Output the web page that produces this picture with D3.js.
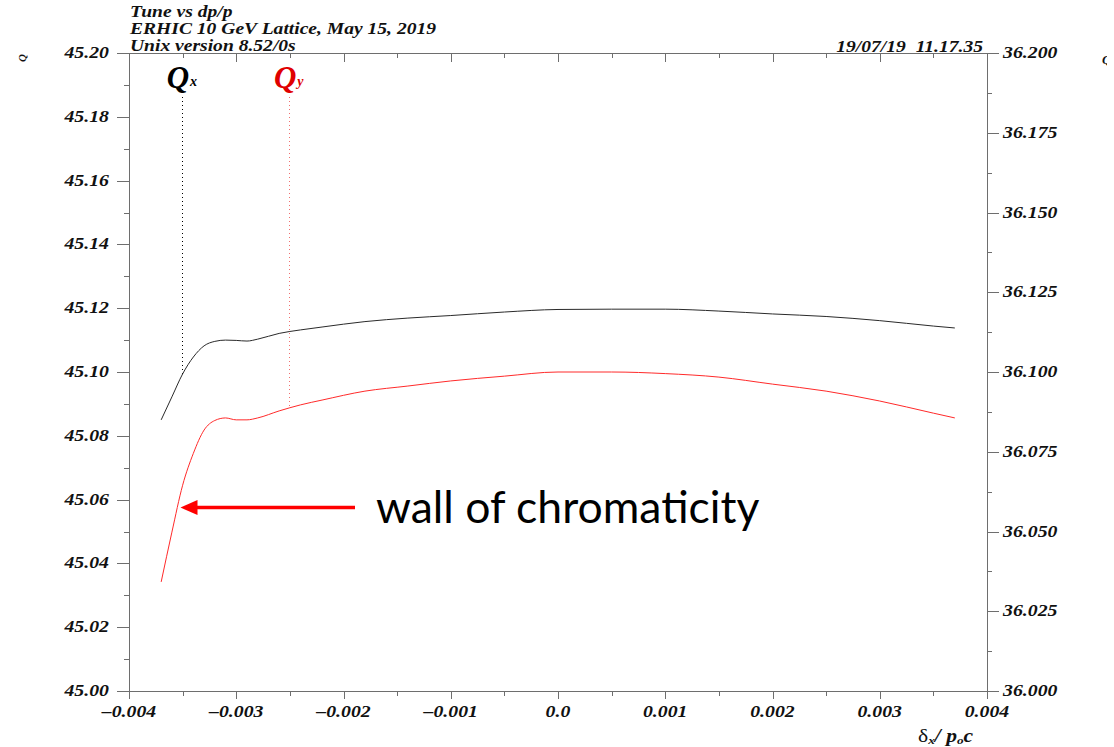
<!DOCTYPE html>
<html>
<head>
<meta charset="utf-8">
<script src="https://cdn.jsdelivr.net/npm/d3@7"></script>
<style>
  html, body { margin: 0; padding: 0; background: #fff; }
  svg { display: block; }
  .plotfont { font-family: "Liberation Serif", "Times New Roman", serif; font-weight: bold; font-style: italic; white-space: pre; }
  .axis path, .axis line { stroke: #6e6e6e; stroke-width: 1; shape-rendering: crispEdges; }
</style>
</head>
<body>
<svg id="chart" width="1114" height="747"></svg>
<script>
// Momentum offsets dp/p at which the tunes were tracked
const dpp = [-0.0037, -0.0036, -0.0035, -0.0034, -0.0033, -0.0032, -0.0031, -0.0030,
             -0.0029, -0.0028, -0.0026, -0.0024, -0.0022, -0.0018, -0.0014, -0.0010,
             -0.0005, 0.0, 0.0005, 0.0010, 0.0015, 0.0020, 0.0025, 0.0030, 0.0035, 0.0037];

// Horizontal tune Qx (left axis)
const qx = [45.0850, 45.0922, 45.0994, 45.1047, 45.1082, 45.1096, 45.1100, 45.1099,
            45.1097, 45.1103, 45.1121, 45.1132, 45.1141, 45.1158, 45.1169, 45.1177,
            45.1188, 45.1196, 45.1197, 45.1197, 45.1191, 45.1182, 45.1174, 45.1161,
            45.1144, 45.1138];

// Vertical tune Qy (right axis)
const qy = [36.0342, 36.0498, 36.0645, 36.0745, 36.0818, 36.0848, 36.0856, 36.0850,
            36.0850, 36.0856, 36.0878, 36.0897, 36.0912, 36.0940, 36.0956, 36.0972,
            36.0987, 36.1000, 36.1000, 36.0995, 36.0984, 36.0962, 36.0940, 36.0909,
            36.0871, 36.0856];

// Axis ticks and labels
const xMajor = [-0.004, -0.003, -0.002, -0.001, 0.0, 0.001, 0.002, 0.003, 0.004];
const xMinor = [-0.0035, -0.0025, -0.0015, -0.0005, 0.0005, 0.0015, 0.0025, 0.0035];
const xTickLabels = ["\u20130.004", "\u20130.003", "\u20130.002", "\u20130.001", "0.0",
                     "0.001", "0.002", "0.003", "0.004"];
const qxMajor = [45.00, 45.02, 45.04, 45.06, 45.08, 45.10, 45.12, 45.14, 45.16, 45.18, 45.20];
const qxMinor = [45.01, 45.03, 45.05, 45.07, 45.09, 45.11, 45.13, 45.15, 45.17, 45.19];
const qyMajor = [36.000, 36.025, 36.050, 36.075, 36.100, 36.125, 36.150, 36.175, 36.200];
const qyMinor = [36.0125, 36.0375, 36.0625, 36.0875, 36.1125, 36.1375, 36.1625, 36.1875];

// Marked working points for the tune labels
const markQx = -0.0035;
const markQy = -0.0025;

const titleLines = ["Tune vs dp/p", "ERHIC 10 GeV Lattice, May 15, 2019", "Unix version 8.52/0s"];
const stamp = "19/07/19  11.17.35";
const note = "wall of chromaticity";
const noteAt = { dp: -0.00352, q: 36.0575 };

const svg = d3.select("#chart");
const pL = 129, pR = 987, pT = 53, pB = 691;

const x = d3.scaleLinear().domain([-0.004, 0.004]).range([pL, pR]);
const yL = d3.scaleLinear().domain([45.0, 45.2]).range([pB, pT]);
const yR = d3.scaleLinear().domain([36.0, 36.2]).range([pB, pT]);

// Frame: bottom + top x axes, left + right tune axes (major and minor ticks)
function drawAxis(axis, tx, ty) {
  const g = svg.append("g").attr("class", "axis").attr("transform", `translate(${tx},${ty})`).call(axis);
  g.selectAll("text").remove();
  return g;
}
drawAxis(d3.axisBottom(x).tickValues(xMajor).tickSize(8).tickSizeOuter(0), 0, pB);
drawAxis(d3.axisBottom(x).tickValues(xMinor).tickSize(5).tickSizeOuter(0), 0, pB).select(".domain").remove();
drawAxis(d3.axisBottom(x).tickValues(xMajor).tickSize(9).tickSizeOuter(0), 0, pT);
drawAxis(d3.axisBottom(x).tickValues(xMinor).tickSize(5).tickSizeOuter(0), 0, pT).select(".domain").remove();
drawAxis(d3.axisLeft(yL).tickValues(qxMajor).tickSize(12).tickSizeOuter(0), pL, 0);
drawAxis(d3.axisLeft(yL).tickValues(qxMinor).tickSize(5).tickSizeOuter(0), pL, 0).select(".domain").remove();
drawAxis(d3.axisRight(yR).tickValues(qyMajor).tickSize(12).tickSizeOuter(0), pR, 0);
drawAxis(d3.axisRight(yR).tickValues(qyMinor).tickSize(5).tickSizeOuter(0), pR, 0).select(".domain").remove();

// Tick labels (stretched horizontally like the plotter font)
const sx = 1.2;
function stretched(text, px, py, anchor, size, color) {
  const g = svg.append("g").attr("transform", `translate(${px},${py}) scale(${sx},1)`);
  const t = g.append("text").attr("class", "plotfont").attr("text-anchor", anchor || "start")
    .attr("font-size", size || 16).attr("fill", color || "#111").text(text);
  return t;
}
qxMajor.forEach(v => stretched(d3.format(".2f")(v), pL - 20, yL(v) + 5, "end", 16.5));
qyMajor.forEach(v => stretched(d3.format(".3f")(v), pR + 16, yR(v) + 5, "start", 16.5));
xMajor.forEach((v, i) => stretched(xTickLabels[i], x(v), pB + 26, "middle", 16.5));

// Titles and time stamp
titleLines.forEach((s, i) => stretched(s, pL + 1, 17 + i * 17, "start", 16.3));
stretched(stamp, pR - 4, 52, "end", 16.3);

// x-axis label: delta_x / p_0 c
{
  const g = svg.append("g").attr("transform", `translate(918,742) scale(${sx},1)`);
  const t = g.append("text").attr("class", "plotfont").attr("font-size", 18).attr("fill", "#111");
  t.append("tspan").attr("font-style", "normal").attr("font-weight", "normal").text("\u03b4");
  t.append("tspan").attr("font-size", 11).attr("dy", 2).text("x");
  t.append("tspan").attr("dy", -2).text("/ p");
  t.append("tspan").attr("font-size", 11).attr("dy", 2).text("o");
  t.append("tspan").attr("dy", -2).text("c");
}

// Clipped axis titles at the far edges
svg.append("text").attr("class", "plotfont").attr("font-size", 11).attr("fill", "#111")
  .attr("transform", "translate(26,62) rotate(-90)").text("Q");
svg.append("defs").append("clipPath").attr("id", "edge").append("rect")
  .attr("x", 1098).attr("y", 45).attr("width", 9).attr("height", 25);
svg.append("text").attr("class", "plotfont").attr("font-size", 13).attr("fill", "#111")
  .attr("clip-path", "url(#edge)").attr("x", 1102).attr("y", 64).text("Q");

// Tune labels with dotted markers down to each curve
function tuneLabel(sub, dp, yEnd, color, dotColor) {
  const t = svg.append("text").attr("class", "plotfont").attr("fill", color)
    .attr("x", x(dp) - 16).attr("y", 88).attr("font-size", 31);
  t.append("tspan").text("Q");
  t.append("tspan").attr("font-size", 14).attr("dy", -2).attr("dx", 1).text(sub);
  svg.append("line").attr("x1", x(dp)).attr("x2", x(dp)).attr("y1", 97).attr("y2", yEnd)
    .attr("stroke", dotColor).attr("stroke-width", 1).attr("stroke-dasharray", "1,3")
    .attr("shape-rendering", "crispEdges");
}
const interp = (arr, dp) => {
  const i = d3.bisectLeft(dpp, dp);
  if (dpp[i] === dp) return arr[i];
  const t = (dp - dpp[i - 1]) / (dpp[i] - dpp[i - 1]);
  return arr[i - 1] + t * (arr[i] - arr[i - 1]);
};
tuneLabel("x", markQx, yL(interp(qx, markQx)), "#000", "#000");
tuneLabel("y", markQy, yR(interp(qy, markQy)), "#e00000", "#f07070");

// Tune curves
const lineQx = d3.line().x((d, i) => x(dpp[i])).y(d => yL(d)).curve(d3.curveMonotoneX);
const lineQy = d3.line().x((d, i) => x(dpp[i])).y(d => yR(d)).curve(d3.curveMonotoneX);
svg.append("path").attr("d", lineQx(qx)).attr("fill", "none").attr("stroke", "#2a2a2a").attr("stroke-width", 1);
svg.append("path").attr("d", lineQy(qy)).attr("fill", "none").attr("stroke", "#ff2a2a").attr("stroke-width", 1);

// Annotation arrow and text
const ax = x(noteAt.dp), ay = yR(noteAt.q);
svg.append("line").attr("x1", 355).attr("x2", ax + 14).attr("y1", ay).attr("y2", ay)
  .attr("stroke", "#ff0000").attr("stroke-width", 3.5);
svg.append("path").attr("d", `M${ax},${ay} L${ax + 17},${ay - 7.5} L${ax + 17},${ay + 7.5} Z`).attr("fill", "#ff0000");
svg.append("text").attr("x", 376).attr("y", 523).attr("font-family", "Lato, 'Open Sans', sans-serif")
  .attr("font-size", 44.5).attr("fill", "#000").text(note);
</script>
</body>
</html>
